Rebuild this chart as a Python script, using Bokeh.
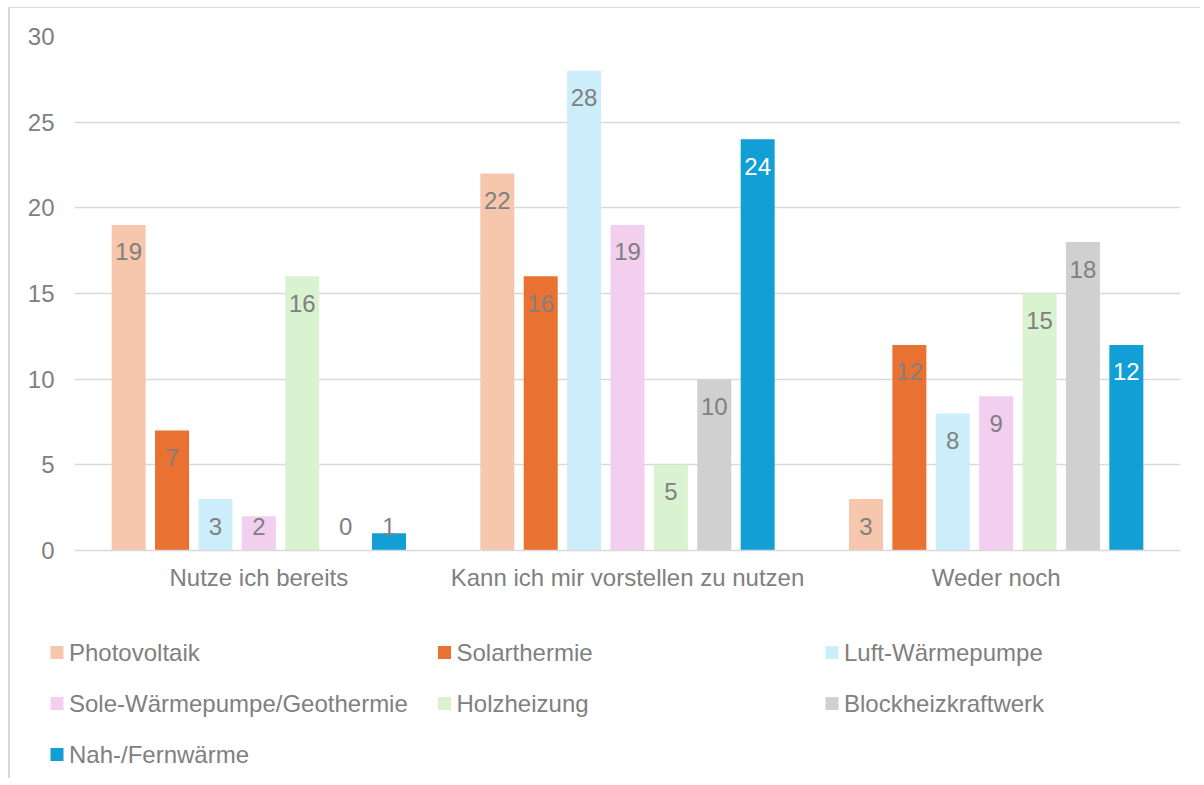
import numpy as np
from bokeh.plotting import figure
from bokeh.layouts import column
from bokeh.models import ColumnDataSource, FactorRange, FixedTicker, Range1d
from bokeh.transform import dodge
from bokeh.core.properties import value
from bokeh.embed import file_html
from bokeh.resources import INLINE

# ---------------- data ----------------
categories = ["Nutze ich bereits", "Kann ich mir vorstellen zu nutzen", "Weder noch"]
series_names = ["Photovoltaik", "Solarthermie", "Luft-Wärmepumpe",
                "Sole-Wärmepumpe/Geothermie", "Holzheizung",
                "Blockheizkraftwerk", "Nah-/Fernwärme"]
photovoltaik = [19, 22, 3]
solarthermie = [7, 16, 12]
luft_waermepumpe = [3, 28, 8]
sole_waermepumpe = [2, 19, 9]
holzheizung = [16, 5, 15]
blockheizkraftwerk = [0, 10, 18]
nah_fernwaerme = [1, 24, 12]
y_ticks = [0, 5, 10, 15, 20, 25, 30]

series_values = [photovoltaik, solarthermie, luft_waermepumpe, sole_waermepumpe,
                 holzheizung, blockheizkraftwerk, nah_fernwaerme]
colors = ["#F6C6AD", "#E97132", "#CCEEFB", "#F2CEEF", "#D9F2D0", "#D0D0D0", "#119FD6"]
inside_label_colors = ["#808080", "#808080", "#808080", "#808080", "#808080", "#808080", "#FFFFFF"]

TEXT = "#808080"
GRID = "#D9D9D9"
FONT = "Liberation Sans"

W = 1190
H1 = 610
H2 = 160

p = figure(width=W, height=H1, x_range=FactorRange(*categories),
           y_range=Range1d(0, 30), output_backend="svg", toolbar_location=None,
           min_border_left=64, min_border_right=20, min_border_top=28,
           min_border_bottom=68)
p.outline_line_color = None
p.background_fill_color = "white"
p.border_fill_color = "white"

px_per_unit = 514 / 30.0
step = 0.1177
bar_w = 0.0922

for i, (name, vals, col, lc) in enumerate(zip(series_names, series_values, colors, inside_label_colors)):
    off = (i - 3) * step
    v = np.array(vals, dtype=float)
    label_y = np.maximum(v - 27 / px_per_unit, 1.40)
    inside = (v - 27 / px_per_unit) >= 1.40 - 1e-9
    lcolors = [lc if ins else TEXT for ins in inside]
    src = ColumnDataSource(dict(cat=categories, val=vals, ly=label_y,
                                txt=[str(x) for x in vals], lc=lcolors))
    p.vbar(x=dodge("cat", off, range=p.x_range), top="val", width=bar_w,
           source=src, fill_color=col, line_color=None)
    p.text(x=dodge("cat", off, range=p.x_range), y="ly", text="txt", source=src,
           text_color="lc", text_align="center", text_baseline="middle",
           text_font=value(FONT), text_font_size="24px")

# axes
p.yaxis.ticker = FixedTicker(ticks=y_ticks)
p.yaxis.axis_line_color = None
p.yaxis.major_tick_line_color = None
p.yaxis.minor_tick_line_color = None
p.yaxis.major_tick_out = 0
p.yaxis.major_label_standoff = 20
p.yaxis.major_label_text_font = FONT
p.yaxis.major_label_text_font_size = "24px"
p.yaxis.major_label_text_color = TEXT

p.xaxis.axis_line_color = GRID
p.xaxis.axis_line_width = 1.5
p.xaxis.major_tick_line_color = None
p.xaxis.minor_tick_line_color = None
p.xaxis.major_tick_out = 0
p.xaxis.major_label_standoff = 13
p.xaxis.major_label_text_font = FONT
p.xaxis.major_label_text_font_size = "24px"
p.xaxis.major_label_text_color = TEXT

p.xgrid.grid_line_color = None
p.ygrid.grid_line_color = GRID
p.ygrid.grid_line_width = 1.5

# ---------------- legend (separate panel in pixel coordinates) ----------------
lg = figure(width=W, height=H2, x_range=Range1d(0, W), y_range=Range1d(H2, 0),
            output_backend="svg", toolbar_location=None,
            x_axis_location=None, y_axis_location=None,
            min_border_left=0, min_border_right=0, min_border_top=0, min_border_bottom=0)
lg.grid.visible = False
lg.outline_line_color = None
lg.background_fill_color = "white"
lg.border_fill_color = "white"
for fig in (p, lg):
    if "frame_align" in fig.properties():
        fig.frame_align = False

ncols = 3
col_x0, col_pitch = 46.5, 387.5
row_y0, row_pitch = 34, 51
idx = np.arange(len(series_names))
mx = col_x0 + (idx % ncols) * col_pitch
my = row_y0 + (idx // ncols) * row_pitch
lsrc = ColumnDataSource(dict(x=mx, y=my, tx=mx + 12, name=series_names, color=colors))
lg.scatter(x="x", y="y", marker="square", size=13, fill_color="color",
           line_color=None, source=lsrc)
lg.text(x="tx", y="y", text="name", source=lsrc, text_color=TEXT,
        text_align="left", text_baseline="middle",
        text_font=value(FONT), text_font_size="24px")

layout = column(p, lg, spacing=0,
                styles={"margin-left": "8px", "margin-top": "7px",
                        "border-left": "2px solid #D9D9D9",
                        "border-top": "1px solid #D9D9D9"})

open("out.html", "w").write(file_html(layout, INLINE))
